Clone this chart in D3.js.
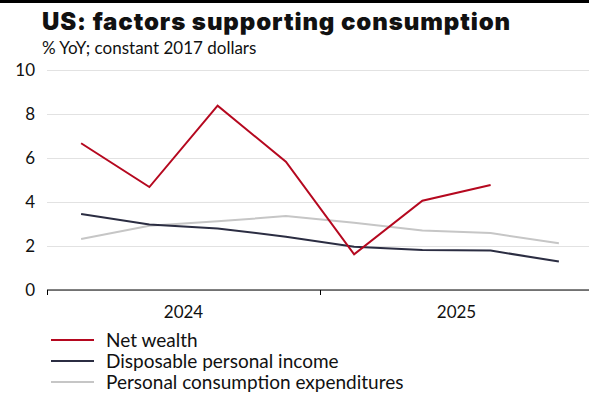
<!DOCTYPE html>
<html lang="en">
<head>
    <meta charset="UTF-8">
    <title>US: factors supporting consumption</title>
    <script src="https://d3js.org/d3.v7.min.js"></script>
    <style>
        body { margin: 0; background: #fff; }
        text { font-family: Lato, "Noto Sans", sans-serif; fill: #111; }
    </style>
</head>
<body>
    <div id="chart"></div>
    <script>
        // quarterly data, 2024 Q1 .. 2025 Q4
        const quarters = ["2024 Q1", "2024 Q2", "2024 Q3", "2024 Q4", "2025 Q1", "2025 Q2", "2025 Q3", "2025 Q4"];
        const years = ["2024", "2025"];
        const netWealth = [6.67, 4.68, 8.38, 5.83, 1.62, 4.06, 4.77, null];
        const disposableIncome = [3.45, 2.98, 2.80, 2.42, 1.97, 1.82, 1.79, 1.30];
        const consumption = [2.32, 2.92, 3.12, 3.36, 3.06, 2.70, 2.59, 2.12];
        const yTicks = [0, 2, 4, 6, 8, 10];

        const series = [
            { name: "Net wealth", values: netWealth, color: "#b5081f" },
            { name: "Disposable personal income", values: disposableIncome, color: "#2b2d42" },
            { name: "Personal consumption expenditures", values: consumption, color: "#c6c6c6" }
        ];

        const W = 589, H = 394;
        const margin = { top: 70, right: -4, bottom: 104, left: 47 };
        const width = W - margin.left - margin.right;
        const height = H - margin.top - margin.bottom;

        const svg = d3.select("#chart").append("svg")
            .attr("width", W)
            .attr("height", H);

        // black rule on top
        svg.append("rect")
            .attr("x", 0).attr("y", 0)
            .attr("width", W).attr("height", 3)
            .attr("fill", "#000");

        svg.append("text")
            .attr("x", 42).attr("y", 30)
            .style("font-family", "Inter, Lato, sans-serif")
            .style("font-size", "24px")
            .style("font-weight", 900)
            .style("letter-spacing", "0.9px")
            .text("US: factors supporting consumption");

        svg.append("text")
            .attr("x", 42).attr("y", 54)
            .style("font-size", "17px")
            .text("% YoY; constant 2017 dollars");

        const g = svg.append("g")
            .attr("transform", `translate(${margin.left},${margin.top})`);

        // x: quarter index, points in the middle of each quarter
        const x = d3.scaleLinear()
            .domain([0, quarters.length])
            .range([0, width]);

        const y = d3.scaleLinear()
            .domain([0, 10])
            .range([height, 0]);

        // grid + y labels
        const yAxis = g.append("g")
            .call(d3.axisLeft(y).tickValues(yTicks).tickSize(-width).tickPadding(12));
        yAxis.select(".domain").remove();
        yAxis.selectAll(".tick line")
            .attr("stroke", "#e2e2e2")
            .attr("x1", 0);
        yAxis.selectAll(".tick text")
            .style("font-size", "17px")
            .style("font-family", "Lato, sans-serif")
            .attr("fill", "#111");

        // x axis: ticks at year boundaries, labels centered in the year
        const xAxis = g.append("g")
            .attr("transform", `translate(0,${height})`)
            .call(d3.axisBottom(x).tickValues([0, 4, 8]).tickSize(5).tickFormat(""));
        xAxis.select(".domain").attr("stroke", "#000").attr("d", `M0,0H${width}`);
        xAxis.selectAll(".tick line").attr("stroke", "#000");

        g.selectAll(".year-label")
            .data(years)
            .join("text")
            .attr("class", "year-label")
            .attr("x", (d, i) => x(i * 4 + 2))
            .attr("y", height + 28)
            .attr("text-anchor", "middle")
            .style("font-size", "17px")
            .text(d => d);

        const line = d3.line()
            .defined(d => d != null)
            .x((d, i) => x(i + 0.5))
            .y(d => y(d));

        // draw gray first so the others sit on top
        g.selectAll(".line")
            .data(series.slice().reverse())
            .join("path")
            .attr("class", "line")
            .attr("fill", "none")
            .attr("stroke", d => d.color)
            .attr("stroke-width", 2)
            .attr("d", d => line(d.values));

        // legend
        const legend = svg.append("g")
            .attr("transform", "translate(51,340)");
        const item = legend.selectAll("g")
            .data(series)
            .join("g")
            .attr("transform", (d, i) => `translate(0,${i * 21})`);
        item.append("line")
            .attr("x1", 0).attr("x2", 43)
            .attr("stroke", d => d.color)
            .attr("stroke-width", 2);
        item.append("text")
            .attr("x", 55)
            .attr("dy", "0.35em")
            .style("font-size", "19px")
            .text(d => d.name);
    </script>
</body>
</html>
